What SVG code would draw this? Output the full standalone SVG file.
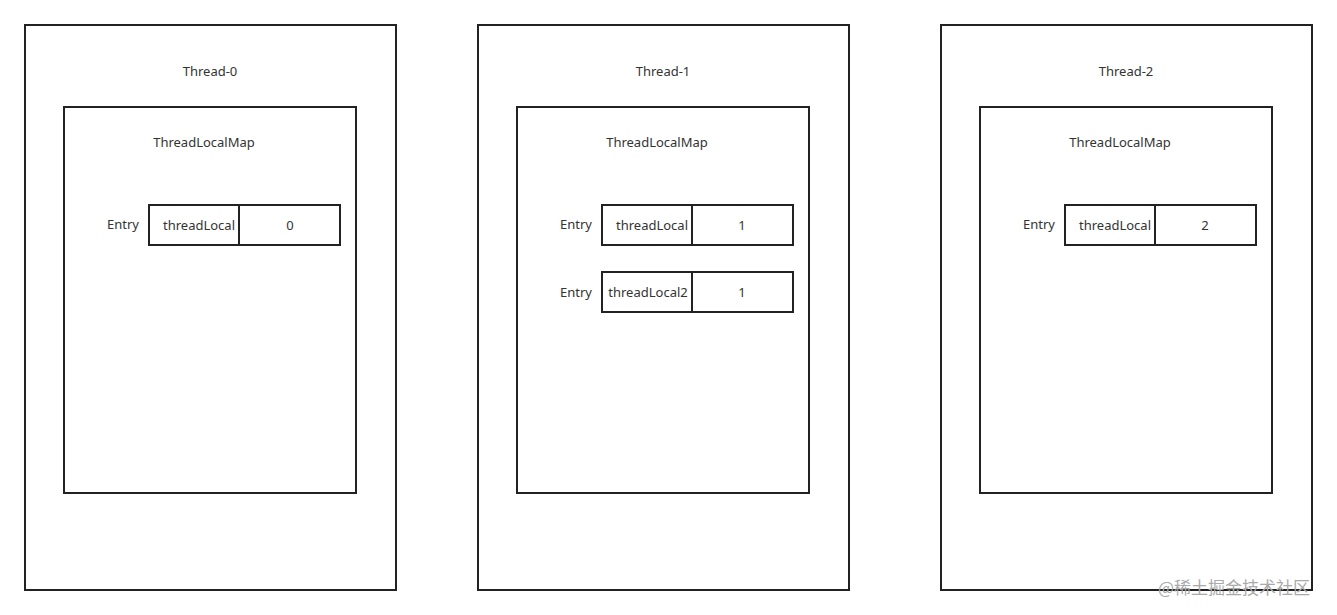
<svg xmlns="http://www.w3.org/2000/svg" width="1337" height="615" viewBox="0 0 1337 615">
<style>
rect{fill:none;stroke:#222;stroke-width:2}
text{font-family:"Noto Sans","Liberation Sans",sans-serif;font-size:13px;fill:#333;text-anchor:middle;dominant-baseline:central}
.wm{font-family:"Noto Sans CJK SC",sans-serif;font-size:17px;fill:#aaa;text-anchor:start}
</style>
<rect x="0" y="0" width="1337" height="615" style="fill:#fff;stroke:none"/>
<g id="thread0">
<rect x="25" y="25" width="371" height="565"/>
<text x="210" y="71">Thread-0</text>
<g id="map0">
<rect x="64" y="107" width="292" height="386"/>
<text x="204" y="142">ThreadLocalMap</text>
<g id="entry0">
<text x="123" y="224">Entry</text>
<rect x="149" y="205" width="90" height="40"/>
<rect x="239" y="205" width="101" height="40"/>
<text x="199" y="225">threadLocal</text>
<text x="290" y="225">0</text>
</g>
</g>
</g>
<g id="thread1">
<rect x="478" y="25" width="371" height="565"/>
<text x="663" y="71">Thread-1</text>
<g id="map1">
<rect x="517" y="107" width="292" height="386"/>
<text x="657" y="142">ThreadLocalMap</text>
<g id="entry1a">
<text x="576" y="224">Entry</text>
<rect x="602" y="205" width="90" height="40"/>
<rect x="692" y="205" width="101" height="40"/>
<text x="652" y="225">threadLocal</text>
<text x="742" y="225">1</text>
</g>
<g id="entry1b">
<text x="576" y="292">Entry</text>
<rect x="602" y="272" width="90" height="40"/>
<rect x="692" y="272" width="101" height="40"/>
<text x="648" y="292">threadLocal2</text>
<text x="742" y="292">1</text>
</g>
</g>
</g>
<g id="thread2">
<rect x="941" y="25" width="371" height="565"/>
<text x="1126" y="71">Thread-2</text>
<g id="map2">
<rect x="980" y="107" width="292" height="386"/>
<text x="1120" y="142">ThreadLocalMap</text>
<g id="entry2">
<text x="1039" y="224">Entry</text>
<rect x="1065" y="205" width="90" height="40"/>
<rect x="1155" y="205" width="101" height="40"/>
<text x="1115" y="225">threadLocal</text>
<text x="1205" y="225">2</text>
</g>
</g>
</g>
<g id="connectors"/>
<text class="wm" x="1158" y="586">@稀土掘金技术社区</text>
</svg>
